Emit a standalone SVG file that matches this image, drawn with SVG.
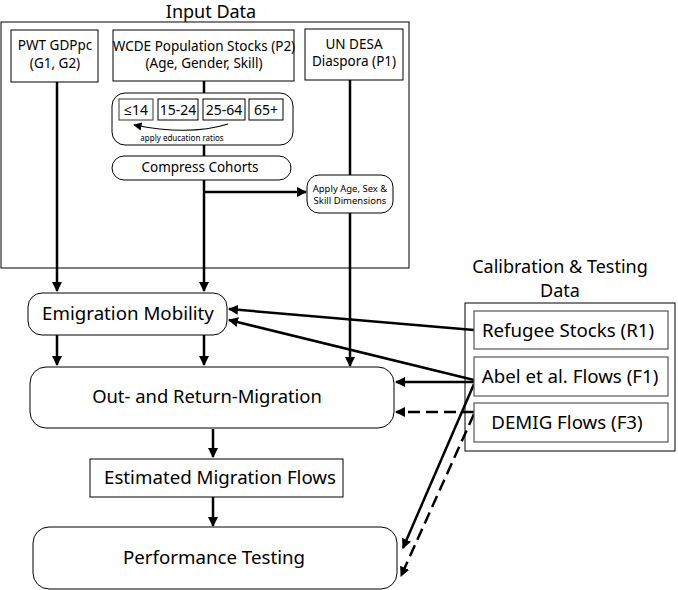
<svg xmlns="http://www.w3.org/2000/svg" width="678" height="590" viewBox="0 0 678 590">
<style>
text{font-family:"Noto Sans","Open Sans",sans-serif;fill:#000;text-anchor:middle}
.box{fill:#fff;stroke:#000;stroke-width:1}
.gbox{fill:#fff;stroke:#555;stroke-width:1.2}
.ln{fill:none;stroke:#000;stroke-width:2.5}
.dash{stroke-dasharray:12 6}
.big{font-size:18.7px}
.mid{font-size:13.5px}
</style>
<defs>
<marker id="ah" viewBox="0 0 10 10" refX="9" refY="5" markerWidth="4" markerHeight="4" orient="auto" markerUnits="strokeWidth">
<path d="M0,0 L10,5 L0,10 z" fill="#000"/>
</marker>
<marker id="ahs" viewBox="0 0 10 10" refX="9" refY="5" markerWidth="7" markerHeight="7" orient="auto" markerUnits="strokeWidth">
<path d="M0,0 L10,5 L0,10 z" fill="#000"/>
</marker>
</defs>
<g id="input-data">
<rect x="1" y="22" width="408" height="246" class="box" stroke="#333"/>
<text x="211" y="18" font-size="18">Input Data</text>
</g>
<g id="calib-data">
<text x="560" y="273" font-size="18">Calibration &amp; Testing</text>
<text x="560" y="297" font-size="18">Data</text>
<rect x="465" y="303" width="210" height="148" class="box"/>
</g>
<g id="connectors">
<line x1="57" y1="82" x2="57" y2="291" class="ln" marker-end="url(#ah)"/>
<line x1="204" y1="81" x2="204" y2="291" class="ln" marker-end="url(#ah)"/>
<line x1="350" y1="80" x2="350" y2="366" class="ln" marker-end="url(#ah)"/>
<line x1="204" y1="192" x2="306" y2="192" class="ln" marker-end="url(#ah)"/>
<line x1="57" y1="335" x2="57" y2="365" class="ln" marker-end="url(#ah)"/>
<line x1="204" y1="335" x2="204" y2="365" class="ln" marker-end="url(#ah)"/>
<line x1="213" y1="429" x2="213" y2="457" class="ln" marker-end="url(#ah)"/>
<line x1="213" y1="497" x2="213" y2="526" class="ln" marker-end="url(#ah)"/>
<line x1="474" y1="330" x2="229" y2="309" class="ln" marker-end="url(#ah)"/>
<line x1="474" y1="380" x2="229" y2="320" class="ln" marker-end="url(#ah)"/>
<line x1="474" y1="382" x2="396" y2="382" class="ln" marker-end="url(#ah)"/>
<line x1="474" y1="412" x2="396" y2="412" class="ln dash" marker-end="url(#ah)"/>
<line x1="474" y1="384" x2="403" y2="548" class="ln" marker-end="url(#ah)"/>
<line x1="474" y1="414" x2="401" y2="576" class="ln dash" marker-end="url(#ah)"/>
</g>
<g id="pwt">
<rect x="11" y="30" width="87" height="52" class="box"/>
<text x="55" y="50" class="mid">PWT GDPpc</text>
<text x="55" y="68" class="mid">(G1, G2)</text>
</g>
<g id="wcde">
<rect x="113" y="30" width="181" height="51" class="box"/>
<text x="204" y="51" class="mid">WCDE Population Stocks (P2)</text>
<text x="204" y="68" class="mid">(Age, Gender, Skill)</text>
</g>
<g id="undesa">
<rect x="305" y="29" width="98" height="51" class="box"/>
<text x="354" y="49" class="mid">UN DESA</text>
<text x="354" y="66" class="mid">Diaspora (P1)</text>
</g>
<g id="cohorts">
<rect x="112" y="93" width="181" height="52" rx="13" class="box"/>
<rect x="119" y="99" width="34" height="21" class="gbox"/>
<text x="136" y="115" font-size="14">≤14</text>
<rect x="158" y="99" width="40" height="21" class="box"/>
<text x="178" y="115" font-size="14">15-24</text>
<rect x="203" y="99" width="42" height="21" class="box"/>
<text x="224" y="115" font-size="14">25-64</text>
<rect x="249" y="99" width="34" height="21" class="box"/>
<text x="266" y="115" font-size="14">65+</text>
<path d="M228,124 Q190,136 134,125" fill="none" stroke="#000" stroke-width="1.2" marker-end="url(#ahs)"/>
<text x="182" y="141" font-size="8">apply education ratios</text>
</g>
<g id="compress">
<rect x="112" y="156" width="179" height="24" rx="12" class="box"/>
<text x="200" y="172" font-size="13.5">Compress Cohorts</text>
</g>
<g id="apply">
<rect x="307" y="175" width="86" height="38" rx="12" class="box"/>
<text x="350" y="192" font-size="9.5">Apply Age, Sex &amp;</text>
<text x="350" y="204" font-size="9.5">Skill Dimensions</text>
</g>
<g id="emigration">
<rect x="28" y="293" width="199" height="42" rx="14" class="box"/>
<text x="128" y="320" class="big">Emigration Mobility</text>
</g>
<g id="outreturn">
<rect x="30" y="367" width="364" height="61" rx="16" class="box"/>
<text x="207" y="403" font-size="18.4">Out- and Return-Migration</text>
</g>
<g id="estimated">
<rect x="90" y="459" width="253" height="38" class="box"/>
<text x="220" y="484" class="big">Estimated Migration Flows</text>
</g>
<g id="performance">
<rect x="33" y="527" width="364" height="62" rx="16" class="box"/>
<text x="214" y="564" class="big">Performance Testing</text>
</g>
<g id="refugee">
<rect x="474" y="311" width="194" height="38" class="gbox"/>
<text x="568" y="337" class="big">Refugee Stocks (R1)</text>
</g>
<g id="abel">
<rect x="474" y="357" width="194" height="39" class="gbox"/>
<text x="570" y="383" class="big">Abel et al. Flows (F1)</text>
</g>
<g id="demig">
<rect x="474" y="403" width="194" height="39" class="gbox"/>
<text x="567" y="429" class="big">DEMIG Flows (F3)</text>
</g>
</svg>
